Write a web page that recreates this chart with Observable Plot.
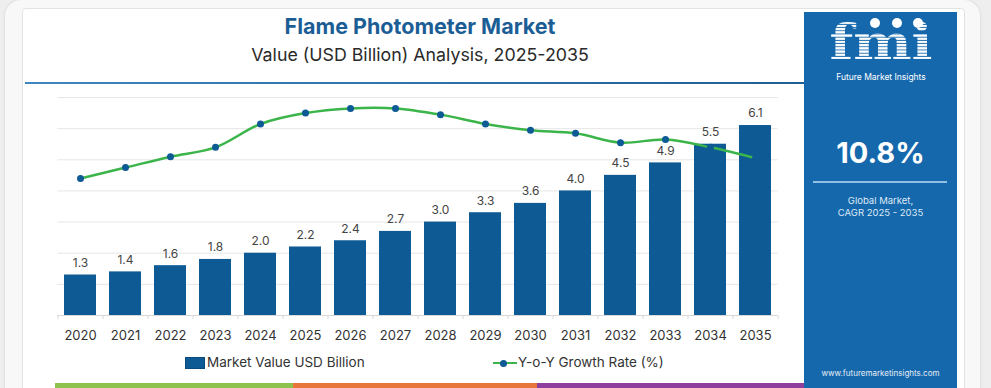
<!DOCTYPE html>
<html><head><meta charset="utf-8">
<script src="https://cdn.jsdelivr.net/npm/d3@7"></script>
<script src="https://cdn.jsdelivr.net/npm/@observablehq/plot@0.6"></script>
<style>
body{margin:0;width:991px;height:388px;overflow:hidden;background:#eeeeee;font-family:Inter,"Open Sans",sans-serif;position:relative}
.abs{position:absolute}
#frame{left:5px;top:0;width:975px;height:420px;background:#f8f8f8;border-radius:16px;box-shadow:0 0 3px rgba(0,0,0,.12)}
#card{left:22px;top:8px;width:941px;height:420px;background:#fff;border:1px solid #e3e3e3;border-radius:4px}
#title{left:25px;width:790px;top:12px;text-align:center;font-weight:700;font-size:21.5px;color:#1b5e96;line-height:28px}
#subtitle{left:25px;width:790px;top:42px;text-align:center;font-size:17.8px;color:#2a2a2a;line-height:26px}
#rule{left:25px;top:82px;width:780px;height:2px;background:linear-gradient(90deg,#3d86bf,#1f5f94)}
#chart{left:0;top:85px}
#legend{left:0;top:352px;width:800px;height:20px;font-size:13.5px;color:#333}
.strip{top:383px;height:5px}
#panel{left:804px;top:12px;width:153px;height:380px;background:#1668ad;color:#fff;text-align:center}
</style></head>
<body>
<div id="frame" class="abs"></div>
<div id="card" class="abs"></div>
<div id="title" class="abs">Flame Photometer Market</div>
<div id="subtitle" class="abs">Value (USD Billion) Analysis, 2025-2035</div>
<div id="rule" class="abs"></div>
<div id="chart" class="abs"></div>
<div id="legend" class="abs">
  <div class="abs" style="left:185px;top:5px;width:20px;height:12px;background:#0d5a94;border:1px solid #0a4a7c;box-sizing:border-box"></div>
  <div class="abs" style="left:207px;top:0;line-height:20px">Market Value USD Billion</div>
  <div class="abs" style="left:493px;top:10px;width:24px;height:2px;background:#3bb54a"></div>
  <div class="abs" style="left:500px;top:7.5px;width:7px;height:7px;border-radius:50%;background:#0d5a94"></div>
  <div class="abs" style="left:518px;top:0;line-height:20px">Y-o-Y Growth Rate (%)</div>
</div>
<div class="abs strip" style="left:55px;width:238px;background:#8dc24f"></div>
<div class="abs strip" style="left:293px;width:244px;background:#e8753b"></div>
<div class="abs strip" style="left:537px;width:267px;background:#8e3f9e"></div>
<div id="panel" class="abs">
  <svg width="153" height="80" style="position:absolute;left:0;top:0">
    <defs><pattern id="stripes" width="4" height="3.2" patternUnits="userSpaceOnUse"><rect width="4" height="2.3" fill="#fff"/></pattern></defs>
    <text x="77" y="47" text-anchor="middle" font-family="DejaVu Serif" font-weight="700" font-size="48" fill="url(#stripes)" transform="translate(77 47) scale(1.15 1) translate(-77 -47)">fmi</text>
    <circle cx="71" cy="11" r="5" fill="#fff"/><circle cx="93" cy="11" r="5" fill="#fff"/><circle cx="114" cy="11" r="5" fill="#fff"/>
    <text x="77" y="67.5" text-anchor="middle" font-size="8.5" fill="#fff" font-family="Inter">Future Market Insights</text>
  </svg>
  <div class="abs" style="left:0;width:153px;top:124px;font-size:29px;font-weight:700;line-height:34px">10.8%</div>
  <div class="abs" style="left:9px;width:134px;top:169px;height:2px;background:#8fbfe3"></div>
  <div class="abs" style="left:0;width:153px;top:183px;font-size:9.5px;line-height:12px;color:#dde9f4">Global Market,<br>CAGR 2025 - 2035</div>
  <div class="abs" style="left:0;width:153px;top:355px;font-size:8px;line-height:12px;color:#e6eef6">www.futuremarketinsights.com</div>
</div>
<script>
const years = ["2020","2021","2022","2023","2024","2025","2026","2027","2028","2029","2030","2031","2032","2033","2034","2035"];
const marketValue = [1.3,1.4,1.6,1.8,2.0,2.2,2.4,2.7,3.0,3.3,3.6,4.0,4.5,4.9,5.5,6.1];
const growthRate = [8.8,9.5,10.2,10.8,12.3,13.0,13.3,13.3,12.9,12.3,11.9,11.7,11.1,11.3,10.8,10.1];
const gridTicks = [1,2,3,4,5,6,7];

const data = years.map((y,i)=>({year:y, value:marketValue[i], growth:growthRate[i]}));
const growthY = d => d.growth / 2;

const chart = Plot.plot({
  width: 800, height: 262,
  marginLeft: 57.5, marginRight: 22.5, marginTop: 12, marginBottom: 32,
  style: {fontFamily: "Inter, 'Open Sans', sans-serif", background: "transparent", overflow: "visible"},
  x: {domain: years, paddingInner: 0.29, paddingOuter: 0.145, label: null},
  y: {domain: [0, 7], axis: null},
  marks: [
    Plot.gridY(gridTicks, {stroke: "#e6e6e6", strokeOpacity: 1}),
    Plot.ruleY([0], {stroke: "#d8d8d8"}),
    Plot.ruleX(years, {x: d => d, dx: -22.5, y1: 0, y2: -0.13, stroke: "#d8d8d8"}),
    Plot.ruleX([years[years.length-1]], {x: d => d, dx: 22.5, y1: 0, y2: -0.13, stroke: "#d8d8d8"}),
    Plot.barY(data, {x: "year", y: "value", fill: "#0d5a94"}),
    Plot.text(data, {x: "year", y: "value", text: d => d.value.toFixed(1), dy: -12, fontSize: 12, fill: "#444"}),
    Plot.line(data, {x: "year", y: growthY, stroke: "#3bb54a", strokeWidth: 2.5, curve: "catmull-rom"}),
    Plot.dot(data, {x: "year", y: growthY, r: 3.5, fill: "#0d5a94"}),
    Plot.axisX({tickSize: 0, tickPadding: 15, fontSize: 13, color: "#333"})
  ]
});
document.getElementById("chart").appendChild(chart);
</script>
</body></html>
